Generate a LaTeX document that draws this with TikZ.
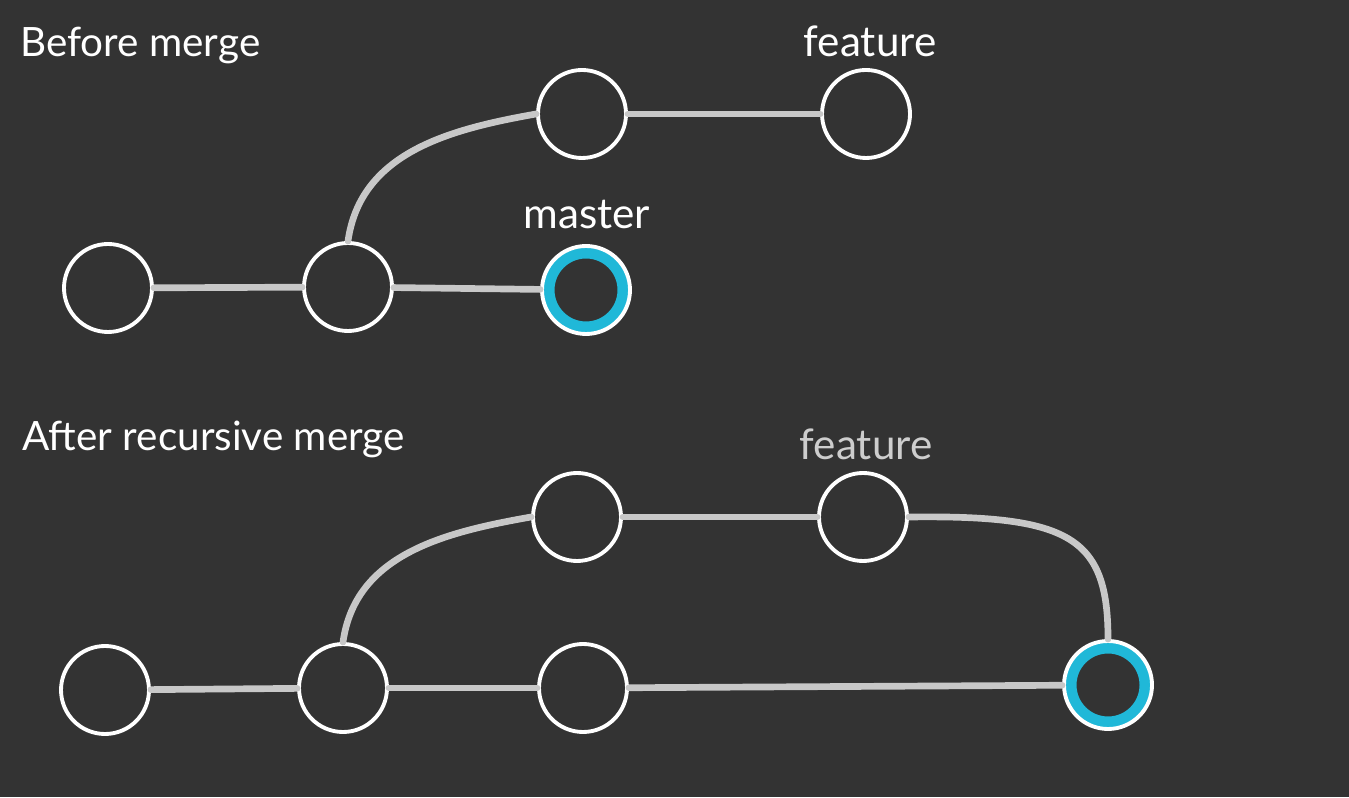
\documentclass[tikz,border=0pt]{standalone}
\usepackage{fontspec}
\setmainfont{Lato}
\usepackage{tikz}
\usetikzlibrary{positioning}
\definecolor{bgdark}{RGB}{51,51,51}
\definecolor{edgegray}{RGB}{200,200,200}
\definecolor{ringblue}{RGB}{32,184,216}
\definecolor{labelgray}{RGB}{205,205,205}

\begin{document}
\begin{tikzpicture}[
  font=\fontsize{12}{14}\selectfont,
  commit/.style={circle, draw=white, line width=1.1pt, fill=bgdark,
                 minimum size=0.88cm, inner sep=0pt},
  head/.style={commit, path picture={
                 \draw[ringblue, line width=0.11cm]
                   (path picture bounding box.center) circle (0.37);}},
  edge/.style={draw=edgegray, line width=1.9pt, line cap=round},
  title/.style={text=white, anchor=west, font=\fontsize{11.5}{14}\selectfont},
  branch/.style={text=white, anchor=base},
]
\fill[bgdark] (0,0) rectangle (13.49,7.97);
\useasboundingbox (0,0) rectangle (13.49,7.97);

% before merge
\node[title] (t1) at (0.08,7.51) {Before merge};
\node[commit] (a1) at (1.08,5.09) {};
\node[commit] (b1) at (3.48,5.10) {};
\node[head]   (c1) at (5.86,5.07) {};
\node[commit] (d1) at (5.82,6.83) {};
\node[commit] (e1) at (8.66,6.83) {};
\node[branch] (lf1) at (8.70,7.40) {feature};
\node[branch] (lm1) at (5.87,5.68) {master};

\draw[edge] (a1) -- (b1);
\draw[edge] (b1) -- (c1);
\draw[edge] (b1.north) to[out=82, in=190] (d1.west);
\draw[edge] (d1) -- (e1);

% after recursive merge
\node[title] (t2) at (0.10,3.58) {After recursive merge};
\node[commit] (a2) at (1.05,1.07) {};
\node[commit] (b2) at (3.43,1.09) {};
\node[commit] (c2) at (5.83,1.09) {};
\node[commit] (d2) at (5.77,2.80) {};
\node[commit] (e2) at (8.63,2.80) {};
\node[head]   (f2) at (11.08,1.12) {};
\node[branch, text=labelgray] (lf2) at (8.66,3.37) {feature};

\draw[edge] (a2) -- (b2);
\draw[edge] (b2) -- (c2);
\draw[edge] (c2) -- (f2);
\draw[edge] (b2.north) to[out=82, in=190] (d2.west);
\draw[edge] (d2) -- (e2);
\draw[edge] (e2.east) .. controls (10.7,2.82) and (11.08,2.6) .. (f2.north);
\end{tikzpicture}
\end{document}
